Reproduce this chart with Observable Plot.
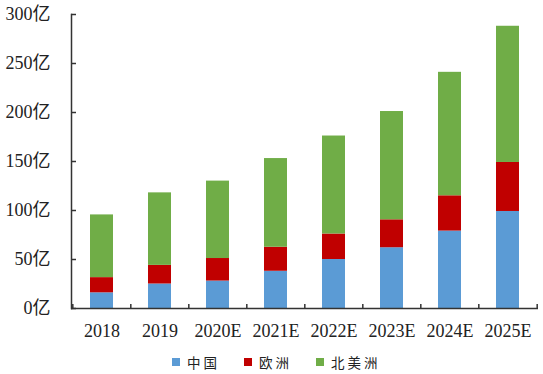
<!DOCTYPE html>
<html>
<head>
<meta charset="utf-8">
<script src="https://cdn.jsdelivr.net/npm/d3@7"></script>
<script src="https://cdn.jsdelivr.net/npm/@observablehq/plot@0.6"></script>
<style>
  html, body { margin: 0; padding: 0; background: #fff; }
  #chart svg { display: block; }
  .legend { display: flex; align-items: center; height: 24px; padding-left: 172px;
    font-family: "Noto Sans CJK SC", sans-serif; font-size: 13.5px; color: #222; letter-spacing: 3px; }
  .legend .sw { width: 8px; height: 8px; margin-right: 7px; }
  .legend .item { display: flex; align-items: center; margin-right: 24px; }
</style>
</head>
<body>
<div id="chart"></div>
<script>
const categories = ["2018", "2019", "2020E", "2021E", "2022E", "2023E", "2024E", "2025E"];
const seriesNames = ["中国", "欧洲", "北美洲"];
const china = [16, 25, 28, 38, 50, 62, 79, 99];
const europe = [15.5, 19, 23, 24.5, 26, 28.5, 36, 50];
const northAmerica = [64, 74, 79, 90.5, 100, 110.5, 126, 139];
const colors = ["#5B9BD5", "#C00000", "#70AD47"];
const yTicks = [0, 50, 100, 150, 200, 250, 300];

const seriesValues = [china, europe, northAmerica];
const data = [];
categories.forEach((c, i) => {
  seriesNames.forEach((s, j) => data.push({category: c, series: s, value: seriesValues[j][i]}));
});

const W = 543, H = 350, ML = 71, MR = 5;
const step = (W - ML - MR) / categories.length;
const font = '"Liberation Serif", "Noto Sans CJK SC", serif';

const plot = Plot.plot({
  width: W, height: H,
  marginLeft: ML, marginRight: MR, marginTop: 14, marginBottom: 42,
  style: {fontFamily: font, fontSize: "18px", color: "#222", background: "#fff"},
  x: {domain: categories, paddingInner: 0.6, paddingOuter: 0.3, label: null},
  y: {domain: [0, 300], label: null},
  color: {domain: seriesNames, range: colors},
  marks: [
    Plot.barY(data, {x: "category", y: "value", fill: "series"}),
    Plot.axisX({tickSize: 0, tickPadding: 16, fontSize: 18}),
    Plot.axisY(yTicks, {tickSize: 0, tickPadding: 21, tickFormat: d => d + "亿", fontSize: 18}),
    Plot.axisY(yTicks, {tickSize: -5, tickFormat: null, text: null, stroke: "#333", strokeWidth: 1.5}),
    Plot.ruleX(categories, {x: d => d, y1: 0, y2: 4, dx: -step / 2, stroke: "#333", strokeWidth: 1.5}),
    Plot.ruleX([categories[categories.length - 1]], {x: d => d, y1: 0, y2: 4, dx: step / 2, stroke: "#333", strokeWidth: 1.5}),
    Plot.ruleY([0], {stroke: "#333", strokeWidth: 1.5}),
    Plot.frame({anchor: "left", stroke: "#333", strokeWidth: 1.5})
  ]
});
document.getElementById("chart").appendChild(plot);

const legend = document.createElement("div");
legend.className = "legend";
seriesNames.forEach((s, i) => {
  const item = document.createElement("div");
  item.className = "item";
  const sw = document.createElement("div");
  sw.className = "sw";
  sw.style.background = colors[i];
  const t = document.createElement("span");
  t.textContent = s;
  item.appendChild(sw);
  item.appendChild(t);
  legend.appendChild(item);
});
document.getElementById("chart").appendChild(legend);
</script>
</body>
</html>
